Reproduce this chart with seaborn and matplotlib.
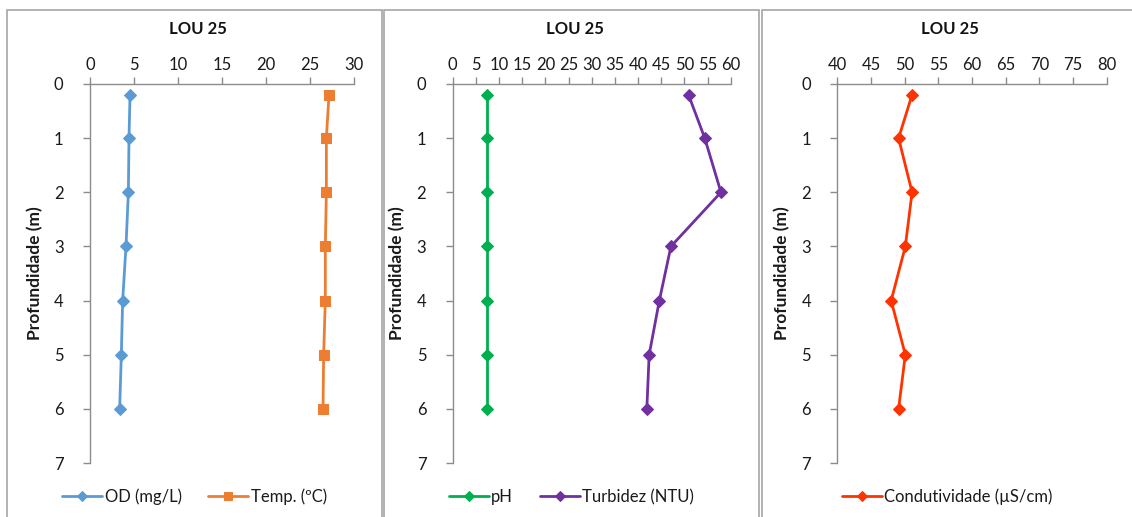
import matplotlib
matplotlib.use("Agg")
import matplotlib.pyplot as plt
from matplotlib.patches import Rectangle
import seaborn as sns
import pandas as pd

sns.set_theme(style="white")
plt.rcParams["font.family"] = ["Lato", "DejaVu Sans"]

# Sampling depths (m)
depth = [0.2, 1, 2, 3, 4, 5, 6]

# Profile values for station LOU 25
od = [4.55, 4.43, 4.36, 4.09, 3.71, 3.56, 3.37]
temp = [27.16, 26.86, 26.86, 26.74, 26.74, 26.55, 26.48]
ph = [7.5, 7.5, 7.5, 7.5, 7.5, 7.5, 7.5]
turbidez = [50.9, 54.4, 57.9, 47.1, 44.6, 42.4, 41.9]
condutividade = [51.1, 49.1, 51.1, 50.1, 48.0, 50.1, 49.1]

title = "LOU 25"
ylabel = "Profundidade (m)"

panels = [
    {
        "xlim": (0, 30), "xticks": list(range(0, 31, 5)),
        "series": [("OD (mg/L)", od, "#5B9BD5", "D", 6),
                   ("Temp. (ºC)", temp, "#ED7D31", "s", 7)],
    },
    {
        "xlim": (0, 60), "xticks": list(range(0, 61, 5)),
        "series": [("pH", ph, "#00B050", "D", 6),
                   ("Turbidez (NTU)", turbidez, "#7030A0", "D", 6)],
    },
    {
        "xlim": (40, 80), "xticks": list(range(40, 81, 5)),
        "series": [("Condutividade (µS/cm)", condutividade, "#FF3300", "D", 6)],
    },
]

W, H = 1132, 517
fig = plt.figure(figsize=(W / 100, H / 100), dpi=100)

# axes extents in pixels: (left, right)
ax_px = [(90, 354), (452.7, 730.7), (837.3, 1106.7)]
box_px = [(7, 382), (384, 759), (762, 1140)]
ax_top, ax_bot = 84, 463
grey = "#8C8C8C"
txt = "#1A1A1A"

for i, (panel, (l, r), (bl, br)) in enumerate(zip(panels, ax_px, box_px)):
    # chart-area border
    fig.patches.append(Rectangle((bl / W, -0.05), (br - bl) / W, 1.05 - 10 / H,
                                 transform=fig.transFigure, fill=False,
                                 edgecolor="#A6A6A6", linewidth=1.2))
    ax = fig.add_axes([l / W, 1 - ax_bot / H, (r - l) / W, (ax_bot - ax_top) / H])
    for name, vals, color, mk, ms in panel["series"]:
        df = pd.DataFrame({"x": vals, "depth": depth})
        sns.lineplot(data=df, x="x", y="depth", orient="y", sort=False, ax=ax,
                     color=color, marker=mk, markersize=ms, markeredgecolor=color,
                     linewidth=2, label=name)
    handles, labels = ax.get_legend_handles_labels()
    ax.get_legend().remove()

    ax.set_xlim(*panel["xlim"])
    ax.set_ylim(7, 0)
    ax.set_xticks(panel["xticks"])
    ax.set_yticks(range(0, 8))
    ax.xaxis.tick_top()
    ax.tick_params(axis="x", top=True, bottom=False, direction="out", length=5,
                   width=1, color=grey, labelsize=12, pad=3, labelcolor=txt)
    ax.tick_params(axis="y", left=True, direction="out", length=5, width=1,
                   color=grey, labelsize=12, pad=14, labelcolor=txt)
    for s in ["right", "bottom"]:
        ax.spines[s].set_visible(False)
    for s in ["top", "left"]:
        ax.spines[s].set_color(grey)
        ax.spines[s].set_linewidth(1)
    ax.set_xlabel("")
    ax.set_ylabel(ylabel, fontsize=12.5, fontweight="bold", labelpad=8,
                  color=txt)
    ax.patch.set_visible(False)

    cx = ((bl + min(br, W)) / 2) / W
    fig.text(cx + 0.003, 1 - 29 / H, title, ha="center", va="center",
             fontsize=12, fontweight="bold", color="#111111")
    fig.legend(handles, labels, loc="center", bbox_to_anchor=(cx, 1 - 497 / H),
               ncol=len(labels), frameon=False, fontsize=12, handlelength=2.4,
               handletextpad=0.15, columnspacing=1.6, markerscale=0.8,
               labelcolor=txt)

fig.savefig("out.png", dpi=100)
